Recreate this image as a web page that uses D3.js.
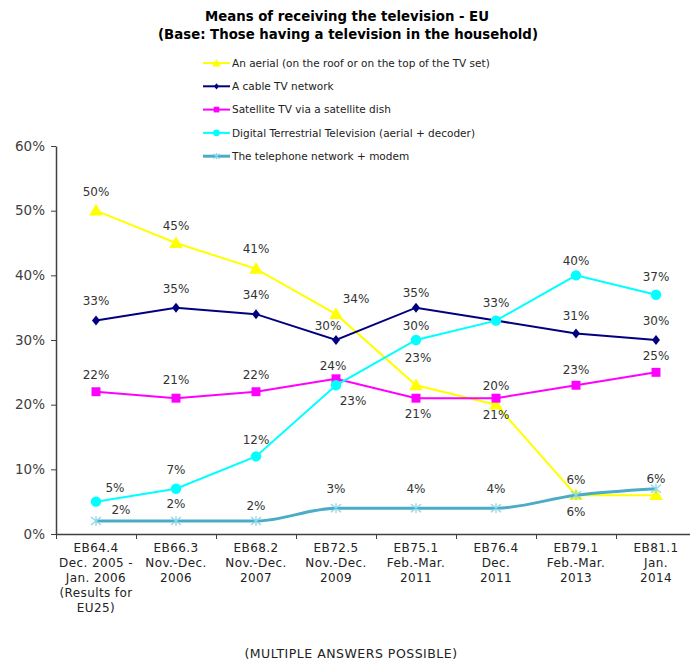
<!DOCTYPE html>
<html>
<head>
<meta charset="utf-8">
<script src="https://cdn.jsdelivr.net/npm/d3@7"></script>
<style>
  body { margin: 0; background: #fff; }
  text { font-family: "DejaVu Sans", Verdana, sans-serif; }
</style>
</head>
<body>
<div id="chart"></div>
<script>
// Data
var waves = [
  ["EB64.4", "Dec. 2005 -", "Jan. 2006", "(Results for", "EU25)"],
  ["EB66.3", "Nov.-Dec.", "2006"],
  ["EB68.2", "Nov.-Dec.", "2007"],
  ["EB72.5", "Nov.-Dec.", "2009"],
  ["EB75.1", "Feb.-Mar.", "2011"],
  ["EB76.4", "Dec.", "2011"],
  ["EB79.1", "Feb.-Mar.", "2013"],
  ["EB81.1", "Jan.", "2014"]
];
var aerial = [50, 45, 41, 34, 23, 20, 6, 6];
var cable = [33, 35, 34, 30, 35, 33, 31, 30];
var satellite = [22, 21, 22, 24, 21, 21, 23, 25];
var digital = [5, 7, 12, 23, 30, 33, 40, 37];
var telephone = [2, 2, 2, 4, 4, 4, 6, 7];
var telephoneLabels = ["2%", "2%", "2%", "3%", "4%", "4%", "6%", "6%"];
var yTicks = [0, 10, 20, 30, 40, 50, 60];

// Layout
var width = 690, height = 660;
var plotLeft = 56, plotRight = 696, plotTop = 146, plotBottom = 534;

var svg = d3.select("#chart").append("svg")
  .attr("width", width)
  .attr("height", height);

// Title
svg.append("text").attr("x", 347).attr("y", 21)
  .attr("text-anchor", "middle").attr("font-size", 13.3).attr("font-weight", "bold")
  .attr("fill", "#000").text("Means of receiving the television  - EU");
svg.append("text").attr("x", 348).attr("y", 39)
  .attr("text-anchor", "middle").attr("font-size", 13.3).attr("font-weight", "bold")
  .attr("fill", "#000").text("(Base: Those having a television  in the household)");

// Scales
var x = d3.scaleBand().domain(d3.range(waves.length)).range([plotLeft, plotRight]);
var xEdge = d3.scaleLinear().domain([0, waves.length]).range([plotLeft, plotRight]);
var y = d3.scaleLinear().domain([0, 60]).range([plotBottom, plotTop]);
function cx(i) { return x(i) + x.bandwidth() / 2; }

// Axes
var yAxis = svg.append("g")
  .attr("transform", "translate(" + plotLeft + ",0)")
  .call(d3.axisLeft(y).tickValues(yTicks).tickSize(5).tickSizeOuter(0)
    .tickFormat(function (d) { return d + "%"; }));
yAxis.selectAll("text").attr("font-size", 13.5).attr("fill", "#404040")
  .attr("font-family", "DejaVu Sans").attr("x", -11);
yAxis.selectAll("line").attr("stroke", "#404040");
yAxis.select(".domain").attr("stroke", "#404040").attr("stroke-width", 1.5);

var xAxis = svg.append("g")
  .attr("transform", "translate(0," + plotBottom + ")")
  .call(d3.axisBottom(xEdge).tickValues(d3.range(waves.length + 1)).tickSize(5)
    .tickSizeOuter(0).tickFormat(""));
xAxis.selectAll("line").attr("stroke", "#404040");
xAxis.select(".domain").attr("stroke", "#404040").attr("stroke-width", 1.5);

// Category labels
waves.forEach(function (lines, i) {
  var t = svg.append("text")
    .attr("text-anchor", "middle").attr("font-size", 12)
    .attr("letter-spacing", 0.4).attr("fill", "#222");
  lines.forEach(function (l, k) {
    t.append("tspan").attr("x", cx(i)).attr("y", 552 + k * 15).text(l);
  });
});

// Series definitions (styles + label placements)
var pct = function (d) { return d + "%"; };
var series = [
  { name: "An aerial (on the roof or on the top of the TV set)", values: aerial, color: "#FFFF00", width: 2, marker: "triangle",
    labelOff: [[0, -19], [0, -17], [0, -20], [20, -15], [2, -27], [0, -19], [0, 17], [0, -16.5]] },
  { name: "A cable TV network", values: cable, color: "#000080", width: 2, marker: "diamond",
    labelOff: [[0, -20], [0, -19], [0, -19], [-8, -14], [0, -15], [0, -18], [0, -18], [0, -19]] },
  { name: "Satellite TV via a satellite dish", values: satellite, color: "#FF00FF", width: 2, marker: "square",
    labelOff: [[0, -17], [0, -18], [0, -17], [-3, -13], [2, 16], [0, 17], [0, -15], [0, -16]] },
  { name: "Digital Terrestrial Television (aerial + decoder)", values: digital, color: "#00FFFF", width: 2, marker: "circle",
    labelOff: [[19, -14], [0, -19], [0, -16], [17, 16], [0, -14], [0, -18], [0, -14], [0, -18]] },
  { name: "The telephone network + modem", values: telephone, color: "#4BACC6", width: 3, marker: "asterisk",
    labels: telephoneLabels, curve: d3.curveMonotoneX,
    labelOff: [[25, -11], [0, -17], [0, -15], [0, -19], [0, -19], [0, -19], [0, -15], [0, -10]] }
];

function drawMarker(g, s, px, py, scale) {
  scale = scale || 1;
  if (s.marker === "triangle") {
    g.append("path").attr("d", d3.symbol(d3.symbolTriangle, 80 * scale)())
      .attr("transform", "translate(" + px + "," + (py + 1) + ")").attr("fill", s.color);
  } else if (s.marker === "diamond") {
    var r = 5 * Math.sqrt(scale);
    g.append("path").attr("d", "M0," + (-r) + "L" + (r * 0.8) + ",0L0," + r + "L" + (-r * 0.8) + ",0Z")
      .attr("transform", "translate(" + px + "," + py + ")").attr("fill", s.color);
  } else if (s.marker === "square") {
    g.append("path").attr("d", d3.symbol(d3.symbolSquare, 80 * scale)())
      .attr("transform", "translate(" + px + "," + py + ")").attr("fill", s.color);
  } else if (s.marker === "circle") {
    g.append("path").attr("d", d3.symbol(d3.symbolCircle, 85 * scale)())
      .attr("transform", "translate(" + px + "," + py + ")").attr("fill", s.color);
  } else {
    var a = 5 * Math.sqrt(scale);
    g.append("path")
      .attr("d", "M" + (-a) + "," + (-a * 0.8) + "L" + a + "," + (a * 0.8) +
        "M" + (-a) + "," + (a * 0.8) + "L" + a + "," + (-a * 0.8) +
        "M0," + (-a) + "L0," + a)
      .attr("transform", "translate(" + px + "," + py + ")")
      .attr("stroke", "#8FD6EA").attr("stroke-width", 1.3).attr("fill", "none");
  }
}

// Lines and markers
var lineGen = d3.line().x(function (d, i) { return cx(i); }).y(function (d) { return y(d); });
series.forEach(function (s) {
  var g = svg.append("g");
  g.append("path").datum(s.values)
    .attr("d", lineGen.curve(s.curve || d3.curveLinear))
    .attr("fill", "none").attr("stroke", s.color).attr("stroke-width", s.width);
  s.values.forEach(function (v, i) { drawMarker(g, s, cx(i), y(v)); });
});

// Data labels (overlapping duplicates are drawn once, like the reference)
var placed = {};
series.forEach(function (s) {
  s.values.forEach(function (v, i) {
    var off = s.labelOff[i];
    var lx = Math.round(cx(i) + off[0]), ly = Math.round(y(v) + off[1]);
    var txt = s.labels ? s.labels[i] : pct(v);
    var key = lx + "," + ly + "," + txt;
    if (placed[key]) return;
    placed[key] = true;
    svg.append("text")
      .attr("x", lx).attr("y", ly)
      .attr("dy", "0.35em").attr("text-anchor", "middle")
      .attr("font-size", 12).attr("fill", "#333")
      .text(txt);
  });
});

// Legend
var legend = svg.append("g").attr("transform", "translate(203,63)");
series.forEach(function (s, k) {
  var row = legend.append("g").attr("transform", "translate(0," + (k * 23.3) + ")");
  row.append("line").attr("x1", 0).attr("x2", 27).attr("y1", 0).attr("y2", 0)
    .attr("stroke", s.color).attr("stroke-width", s.width);
  drawMarker(row, s, 13.5, 0, 0.4);
  row.append("text").attr("x", 29).attr("y", 0).attr("dy", "0.35em")
    .attr("font-size", 10.5).attr("fill", "#222").text(s.name);
});

// Footer
svg.append("text").attr("x", 351).attr("y", 654).attr("dy", "0.35em")
  .attr("text-anchor", "middle").attr("font-size", 12.5).attr("letter-spacing", 0.5)
  .attr("fill", "#222")
  .text("(MULTIPLE ANSWERS POSSIBLE)");
</script>
</body>
</html>
